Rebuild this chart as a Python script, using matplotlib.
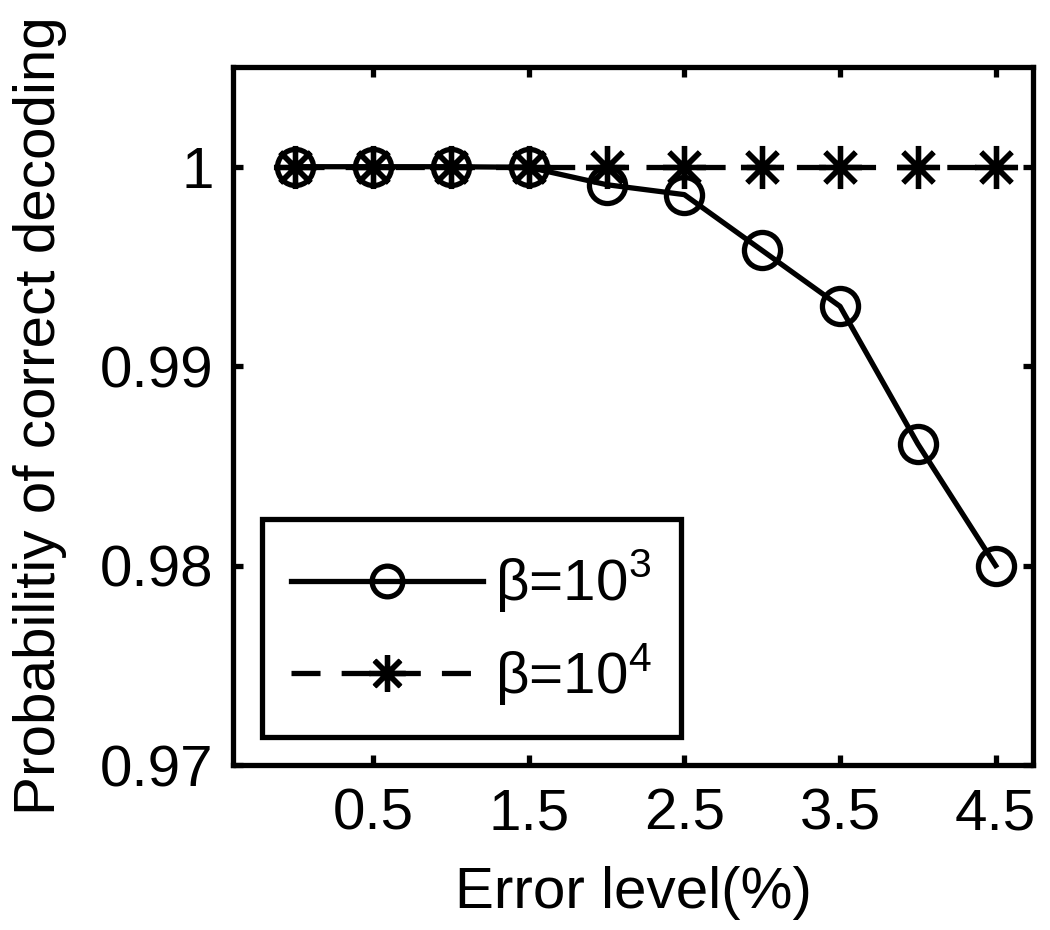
import numpy as np
import matplotlib
matplotlib.use("Agg")
import matplotlib.pyplot as plt

plt.rcParams['font.family'] = ['Liberation Sans', 'DejaVu Sans']
plt.rcParams['mathtext.fontset'] = 'custom'
plt.rcParams['mathtext.rm'] = 'Liberation Sans'

# data
error_level = [0, 0.5, 1.0, 1.5, 2.0, 2.5, 3.0, 3.5, 4.0, 4.5]
p_beta3 = [1.0, 1.0, 1.0, 0.99997, 0.9991, 0.9986, 0.9958, 0.9930, 0.9861, 0.9800]
p_beta4 = [1.0, 1.0, 1.0, 1.0, 1.0, 1.0, 1.0, 1.0, 1.0, 1.0]
xticks = [0.5, 1.5, 2.5, 3.5, 4.5]
yticks = [0.97, 0.98, 0.99, 1.0]
ytick_labels = ['0.97', '0.98', '0.99', '1']

fig = plt.figure(figsize=(10.5, 9.3), dpi=100)
ax = fig.add_axes([233/1050, 1-765/930, 800/1050, 698/930])

lw = 3.8
fs = 42
ax.plot(error_level, p_beta3, '-', color='k', lw=lw, marker='o', ms=26,
        mfc='none', mew=lw, label=r'β=10$^{3}$')
ax.plot(error_level, p_beta4, '--', color='k', lw=lw, marker=(8, 2, 0), ms=31,
        mfc='k', mew=3.8, dashes=(5.5, 4), label=r'β=10$^{4}$')

ax.set_xlim(-0.4, 4.74)
ax.set_ylim(0.97, 1.005)
ax.set_xticks(xticks)
ax.set_xticklabels([str(t) for t in xticks])
ax.set_yticks(yticks)
ax.set_yticklabels(ytick_labels)

for s in ax.spines.values():
    s.set_linewidth(lw)
ax.tick_params(direction='in', length=7, width=lw, top=True, right=True,
               labelsize=fs)
ax.tick_params(axis='x', pad=16)
ax.tick_params(axis='y', pad=14)

ax.set_xlabel('Error level(%)', fontsize=fs, labelpad=18)
ax.set_ylabel('Probabilitiy of correct decoding', fontsize=fs, labelpad=24)

leg = ax.legend(loc='lower left', bbox_to_anchor=(0.036, 0.04), fontsize=fs,
                frameon=True, fancybox=False, edgecolor='k', framealpha=1,
                handlelength=3.3, handletextpad=0.2, markerscale=0.85,
                borderpad=0.5, labelspacing=0.45, borderaxespad=0)
leg.get_frame().set_linewidth(lw)

fig.savefig('out.png', dpi=100)
